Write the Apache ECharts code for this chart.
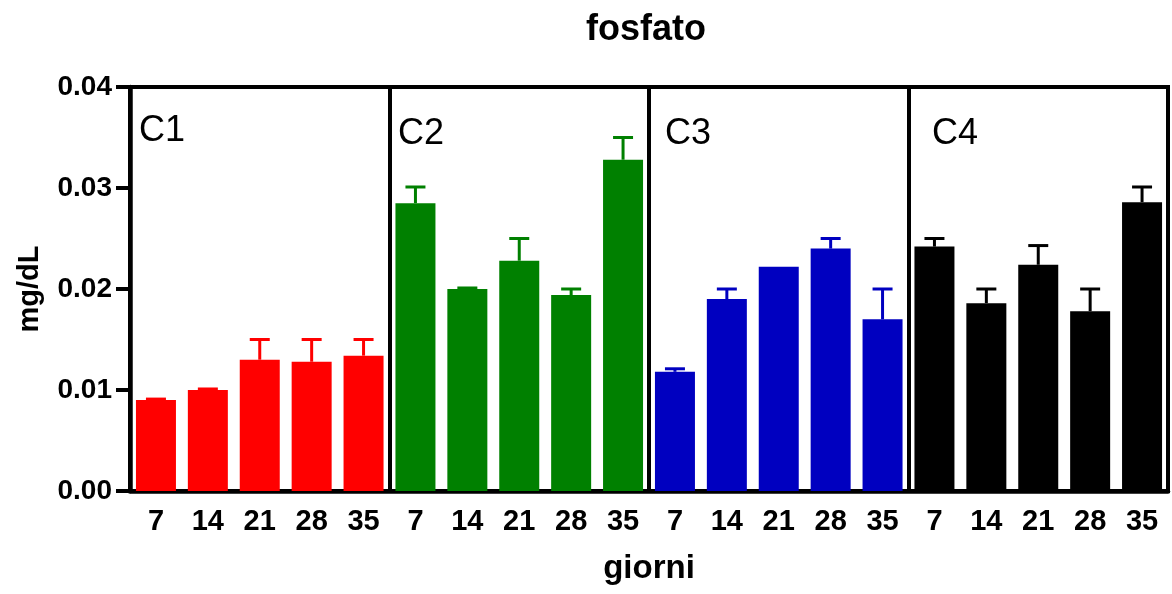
<!DOCTYPE html>
<html>
<head>
<meta charset="utf-8">
<script src="https://cdn.jsdelivr.net/npm/echarts@6/dist/echarts.min.js"></script>
<style>
html,body{margin:0;padding:0;background:#fff;}
#main{width:1172px;height:594px;}
</style>
</head>
<body>
<div id="main"></div>
<script>
// ---- data ----
var days = ['7', '14', '21', '28', '35'];
var groups = ['C1', 'C2', 'C3', 'C4'];
var c1 = [0.0090, 0.0100, 0.0130, 0.0128, 0.0134];
var c2 = [0.0285, 0.0200, 0.0228, 0.0194, 0.0328];
var c3 = [0.0118, 0.0190, 0.0222, 0.0240, 0.0170];
var c4 = [0.0242, 0.0186, 0.0224, 0.0178, 0.0286];
var e1 = [0.0001, 0.0001, 0.0020, 0.0022, 0.0016];
var e2 = [0.0016, 0.0001, 0.0022, 0.0006, 0.0022];
var e3 = [0.0003, 0.0010, 0.0000, 0.0010, 0.0030];
var e4 = [0.0008, 0.0014, 0.0019, 0.0022, 0.0015];
var yTicks = [0, 0.01, 0.02, 0.03, 0.04];

var colors = ['#ff0000', '#008000', '#0000c0', '#000000'];
var means = [c1, c2, c3, c4];
var errs = [e1, e2, e3, e4];

var categories = [];
var barData = [];
var errData = [];
for (var g = 0; g < 4; g++) {
  for (var d = 0; d < days.length; d++) {
    var idx = categories.length;
    categories.push(days[d]);
    barData.push({value: means[g][d], itemStyle: {color: colors[g]}});
    errData.push([idx, means[g][d], means[g][d] + errs[g][d], g]);
  }
}

var FONT = '"Liberation Sans", Arial, sans-serif';
var chart = echarts.init(document.getElementById('main'));

function renderErr(params, api) {
  var x = api.value(0);
  if (api.value(2) <= api.value(1)) { return null; }
  var lo = api.coord([x, api.value(1)]);
  var hi = api.coord([x, api.value(2)]);
  var col = colors[api.value(3)];
  var half = 10;
  return {
    type: 'group',
    children: [
      {type: 'line', shape: {x1: lo[0], y1: lo[1], x2: hi[0], y2: hi[1]},
       style: {stroke: col, lineWidth: 3}},
      {type: 'line', shape: {x1: hi[0] - half, y1: hi[1], x2: hi[0] + half, y2: hi[1]},
       style: {stroke: col, lineWidth: 3}}
    ]
  };
}

var graphics = [];
var labelPos = [[139, 113], [398, 116], [665, 116], [932, 116]];
for (var i = 0; i < groups.length; i++) {
  graphics.push({
    type: 'text', left: labelPos[i][0], top: labelPos[i][1],
    style: {text: groups[i], font: 'normal 36px ' + FONT, fill: '#000'}
  });
}

chart.setOption({
  animation: false,
  backgroundColor: '#fff',
  title: {
    text: 'fosfato', left: 581, top: 7,
    textStyle: {fontFamily: FONT, fontWeight: 'bold', fontSize: 36, color: '#000'}
  },
  grid: {left: 130, right: 4, top: 87, bottom: 103, show: true, borderColor: '#000', borderWidth: 4},
  xAxis: {
    type: 'category',
    data: categories,
    name: 'giorni',
    nameLocation: 'middle',
    nameGap: 61,
    nameTextStyle: {fontFamily: FONT, fontWeight: 'bold', fontSize: 33, color: '#000'},
    axisLine: {lineStyle: {color: '#000', width: 4.5}},
    axisTick: {alignWithLabel: true, length: 11, lineStyle: {color: '#000', width: 4}},
    axisLabel: {interval: 0, margin: 16, fontFamily: FONT, fontWeight: 'bold', fontSize: 29, color: '#000'},
    splitLine: {show: true, interval: function (index) { return index % 5 === 0; },
                lineStyle: {color: '#000', width: 4}}
  },
  yAxis: {
    type: 'value',
    min: yTicks[0], max: yTicks[yTicks.length - 1], interval: 0.01,
    name: 'mg/dL',
    nameLocation: 'middle',
    nameRotate: 90,
    nameGap: 86,
    nameTextStyle: {fontFamily: FONT, fontWeight: 'bold', fontSize: 29, color: '#000'},
    axisLine: {show: true, lineStyle: {color: '#000', width: 4.5}},
    axisTick: {show: true, length: 14, lineStyle: {color: '#000', width: 4}},
    axisLabel: {margin: 18, fontFamily: FONT, fontWeight: 'bold', fontSize: 28, color: '#000',
                formatter: function (v) { return v.toFixed(2); }},
    splitLine: {show: false}
  },
  graphic: graphics,
  series: [
    {type: 'bar', data: barData, barWidth: 40, z: 2},
    {type: 'custom', data: errData, renderItem: renderErr, z: 3,
     encode: {x: 0, y: [1, 2]}}
  ]
});
</script>
</body>
</html>
